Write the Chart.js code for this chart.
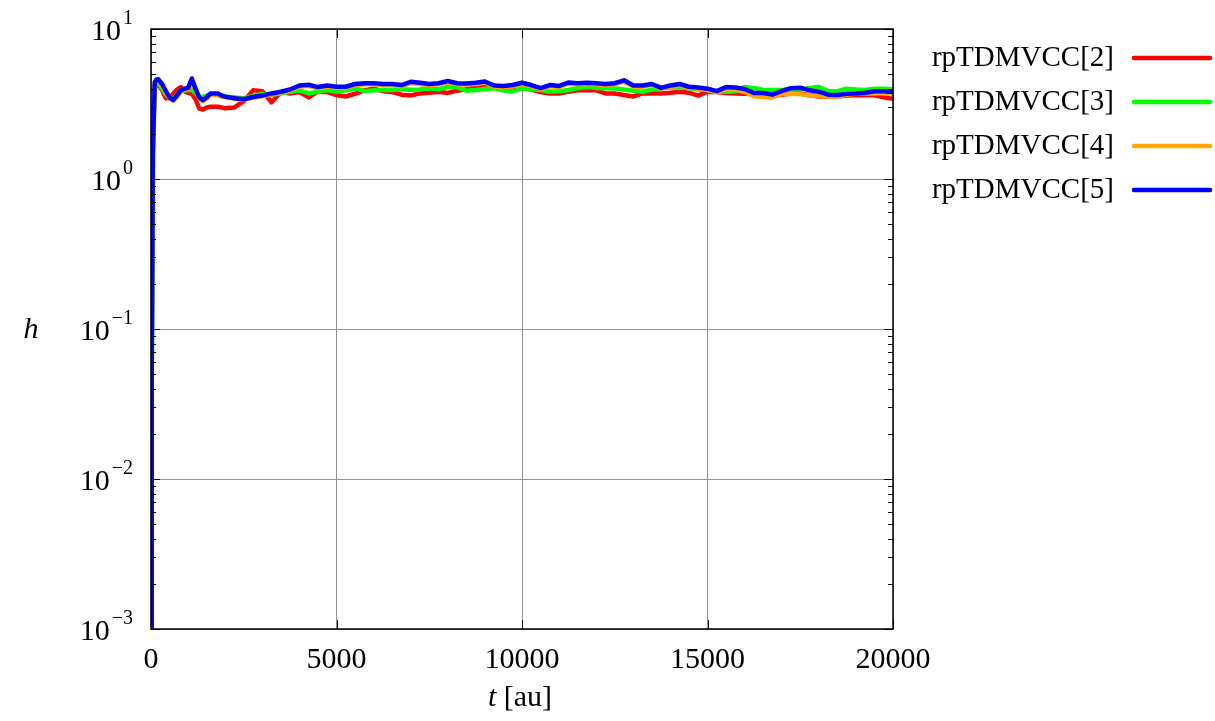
<!DOCTYPE html>
<html>
<head>
<meta charset="utf-8">
<script src="https://cdn.jsdelivr.net/npm/chart.js@4.4.1/dist/chart.umd.min.js"></script>
<style>
  html, body { margin: 0; padding: 0; background: #fff; }
  #wrap { width: 1215px; height: 721px; position: relative; }
</style>
</head>
<body>
<div id="wrap"><canvas id="chart"></canvas></div>
<script>
// time axis (au) shared by all four runs
const times = [0, 20, 50, 100, 150,
  200, 300, 400, 500, 600, 700, 800, 900, 1000, 1100,
  1200, 1300, 1400, 1500, 1600, 1700, 1800, 1900, 2000,
  2250, 2500, 2750, 3000, 3250, 3500, 3750, 4000,
  4250, 4500, 4750, 5000, 5250, 5500, 5750, 6000,
  6250, 6500, 6750, 7000, 7250, 7500, 7750, 8000,
  8250, 8500, 8750, 9000, 9250, 9500, 9750, 10000,
  10250, 10500, 10750, 11000, 11250, 11500, 11750, 12000,
  12250, 12500, 12750, 13000, 13250, 13500, 13750, 14000,
  14250, 14500, 14750, 15000, 15250, 15500, 15750, 16000,
  16250, 16500, 16750, 17000, 17250, 17500, 17750, 18000,
  18250, 18500, 18750, 19000, 19250, 19500, 19750, 20000];

const h2 = [0.001, 0.08, 2.0, 4.0, 4.3,
  4.25, 3.9, 3.45, 3.45, 3.7, 3.95, 4.1, 3.85, 3.75, 3.7,
  3.4, 2.95, 2.9, 3.0, 3.03, 3.03, 3.03, 3.0, 2.96,
  3.0, 3.3, 3.9, 3.85, 3.25, 3.8, 3.72, 3.8,
  3.5, 3.82, 3.8, 3.63, 3.55, 3.7, 3.9, 4.0,
  3.85, 3.8, 3.65, 3.6, 3.72, 3.76, 3.82, 3.75,
  3.88, 3.96, 4.09, 4.12, 4.2, 3.92, 3.88, 4.03,
  3.95, 3.8, 3.72, 3.72, 3.82, 3.9, 3.92, 3.9,
  3.72, 3.72, 3.63, 3.55, 3.72, 3.72, 3.72, 3.76,
  3.82, 3.76, 3.6, 3.82, 3.8, 3.74, 3.72, 3.7,
  3.68, 3.6, 3.55, 3.65, 3.72, 3.72, 3.62, 3.55,
  3.55, 3.55, 3.6, 3.62, 3.62, 3.62, 3.5, 3.42];

const h3 = [0.001, 0.05, 1.4, 4.2, 4.4,
  4.3, 4.0, 3.65, 3.5, 3.45, 3.6, 3.8, 3.9, 3.92, 3.92,
  3.75, 3.54, 3.54, 3.6, 3.63, 3.63, 3.63, 3.6, 3.55,
  3.5, 3.45, 3.58, 3.7, 3.65, 3.72, 3.82, 3.9,
  3.72, 3.82, 3.92, 3.82, 3.9, 4.03, 3.85, 3.9,
  3.92, 3.92, 3.96, 3.94, 3.95, 4.03, 3.96, 4.12,
  4.1, 3.88, 3.92, 3.98, 4.03, 3.9, 3.82, 4.03,
  3.97, 3.92, 3.83, 3.85, 3.92, 4.03, 4.1, 4.05,
  4.03, 4.03, 3.95, 3.88, 3.82, 3.95, 4.03, 4.07,
  4.09, 4.03, 3.95, 3.92, 3.82, 3.82, 3.85, 4.1,
  4.05, 3.92, 3.92, 3.92, 3.94, 3.96, 4.05, 4.1,
  3.85, 3.85, 4.0, 3.95, 3.92, 4.0, 4.0, 3.96];

const h4 = [0.001, 0.06, 1.7, 4.3, 4.5,
  4.5, 4.2, 3.75, 3.45, 3.35, 3.55, 3.85, 3.95, 4.0, 4.5,
  3.95, 3.45, 3.3, 3.45, 3.65, 3.65, 3.65, 3.55, 3.5,
  3.42, 3.38, 3.48, 3.56, 3.66, 3.76, 3.9, 4.12,
  4.18, 4.02, 4.12, 4.05, 4.05, 4.22, 4.28, 4.28,
  4.22, 4.22, 4.15, 4.35, 4.3, 4.22, 4.28, 4.42,
  4.28, 4.25, 4.3, 4.38, 4.12, 4.1, 4.15, 4.3,
  4.15, 3.97, 4.15, 4.1, 4.32, 4.28, 4.3, 4.28,
  4.22, 4.28, 4.45, 4.12, 4.12, 4.25, 4.0, 4.12,
  4.2, 4.05, 4.0, 3.92, 3.8, 3.98, 3.95, 3.8,
  3.56, 3.52, 3.5, 3.68, 3.7, 3.68, 3.6, 3.58,
  3.55, 3.54, 3.65, 3.72, 3.72, 3.72, 3.75, 3.72];

const h5 = [0.001, 0.05, 1.5, 4.4, 4.6,
  4.62, 4.3, 3.85, 3.5, 3.36, 3.6, 3.9, 4.0, 4.05, 4.68,
  4.0, 3.5, 3.36, 3.5, 3.72, 3.72, 3.72, 3.6, 3.54,
  3.45, 3.4, 3.52, 3.6, 3.72, 3.82, 3.95, 4.2,
  4.25, 4.1, 4.2, 4.12, 4.12, 4.3, 4.35, 4.35,
  4.3, 4.3, 4.23, 4.45, 4.38, 4.3, 4.35, 4.5,
  4.35, 4.33, 4.38, 4.46, 4.2, 4.17, 4.23, 4.38,
  4.23, 4.03, 4.23, 4.17, 4.4, 4.35, 4.38, 4.35,
  4.3, 4.35, 4.55, 4.2, 4.2, 4.3, 4.05, 4.2,
  4.3, 4.12, 4.07, 4.0, 3.85, 4.1, 4.07, 3.98,
  3.75, 3.74, 3.65, 3.86, 4.03, 4.06, 3.9, 3.82,
  3.65, 3.63, 3.7, 3.72, 3.76, 3.85, 3.85, 3.8];

const seriesNames = ["rpTDMVCC[2]", "rpTDMVCC[3]", "rpTDMVCC[4]", "rpTDMVCC[5]"];
const seriesColors = ["#ff0000", "#00ff00", "#ffa500", "#0000ff"];
const seriesValues = [h2, h3, h4, h5];

const xTicks = [0, 5000, 10000, 15000, 20000];
const yExponents = [-3, -2, -1, 0, 1];
const yMinorSteps = [2, 3, 4, 5, 6, 7, 8, 9];

const SERIF = "'Liberation Serif', 'DejaVu Serif', serif";

function line(ctx, x1, y1, x2, y2) {
  ctx.beginPath(); ctx.moveTo(x1, y1); ctx.lineTo(x2, y2); ctx.stroke();
}

// frame, inward ticks, superscript y labels, axis titles, legend on the right
const decorations = {
  id: "decorations",
  afterDraw(chart) {
    const { ctx, chartArea: a, scales: { x, y } } = chart;
    ctx.save();
    ctx.strokeStyle = "#000";
    ctx.lineWidth = 1;

    for (let e = -3; e < 1; e++) {
      for (const m of yMinorSteps) {
        const py = Math.round(y.getPixelForValue(m * Math.pow(10, e))) + 0.5;
        line(ctx, a.left, py, a.left + 5, py);
        line(ctx, a.right - 5, py, a.right, py);
      }
    }
    for (const e of yExponents) {
      const py = Math.round(y.getPixelForValue(Math.pow(10, e))) + 0.5;
      line(ctx, a.left, py, a.left + 9, py);
      line(ctx, a.right - 9, py, a.right, py);
    }
    for (const t of xTicks) {
      const px = Math.round(x.getPixelForValue(t)) + 0.5;
      line(ctx, px, a.bottom, px, a.bottom - 9);
      line(ctx, px, a.top, px, a.top + 9);
    }

    ctx.lineWidth = 1.5;
    ctx.strokeRect(a.left, a.top, a.right - a.left, a.bottom - a.top);

    // y labels 10^k, right-aligned
    ctx.fillStyle = "#000";
    ctx.textBaseline = "alphabetic";
    for (const e of yExponents) {
      const py = y.getPixelForValue(Math.pow(10, e));
      const exp = e < 0 ? "\u2212" + Math.abs(e) : String(e);
      ctx.font = `20px ${SERIF}`;
      const we = ctx.measureText(exp).width;
      ctx.font = `30px ${SERIF}`;
      const wb = ctx.measureText("10").width;
      const right = 133;
      ctx.textAlign = "left";
      ctx.fillText("10", right - we - wb - 2, py + 11);
      ctx.font = `20px ${SERIF}`;
      ctx.fillText(exp, right - we, py - 5);
    }

    // axis titles
    ctx.font = `italic 30px ${SERIF}`;
    ctx.textAlign = "center";
    ctx.fillText("h", 31, 338);

    const wt = ctx.measureText("t").width;
    ctx.font = `30px ${SERIF}`;
    const wr = ctx.measureText(" [au]").width;
    const x0 = 520 - (wt + wr) / 2;
    ctx.textAlign = "left";
    ctx.font = `italic 30px ${SERIF}`;
    ctx.fillText("t", x0, 706);
    ctx.font = `30px ${SERIF}`;
    ctx.fillText(" [au]", x0 + wt, 706);

    // legend: text then line sample
    ctx.font = `29px ${SERIF}`;
    ctx.textAlign = "right";
    seriesNames.forEach((name, i) => {
      const ly = 58 + i * 44;
      ctx.fillStyle = "#000";
      ctx.fillText(name, 1114, ly + 8);
      ctx.strokeStyle = seriesColors[i];
      ctx.lineWidth = 4.5;
      ctx.lineCap = "round";
      line(ctx, 1134, ly, 1210, ly);
    });
    ctx.restore();
  }
};

const datasets = seriesValues.map((vals, i) => ({
  label: seriesNames[i],
  data: times.map((t, j) => ({ x: t, y: vals[j] })),
  borderColor: seriesColors[i],
  backgroundColor: seriesColors[i],
  borderWidth: 4.5,
  borderJoinStyle: "round",
  borderCapStyle: "round",
  pointRadius: 0,
  tension: 0,
  order: seriesValues.length - 1 - i,
}));

new Chart(document.getElementById("chart"), {
  type: "line",
  data: { datasets },
  options: {
    responsive: true,
    maintainAspectRatio: false,
    animation: false,
    layout: { padding: { top: 29, right: 322, bottom: 0, left: 0 } },
    plugins: { legend: { display: false }, tooltip: { enabled: false } },
    scales: {
      x: {
        type: "linear",
        min: 0, max: 20000,
        afterBuildTicks: (s) => { s.ticks = xTicks.map(v => ({ value: v })); },
        afterFit: (s) => { s.height = 92; },
        grid: { color: "#909090", lineWidth: 1, drawTicks: false },
        border: { display: false },
        ticks: {
          color: "#000",
          font: { family: SERIF, size: 30 },
          padding: 13,
          maxRotation: 0,
          autoSkip: false,
          callback: (v) => String(v),
        },
      },
      y: {
        type: "logarithmic",
        min: 0.001, max: 10,
        afterBuildTicks: (s) => { s.ticks = yExponents.map(e => ({ value: Math.pow(10, e) })); },
        afterFit: (s) => { s.width = 151; },
        grid: { color: "#909090", lineWidth: 1, drawTicks: false },
        border: { display: false },
        ticks: { display: false },
      },
    },
  },
  plugins: [decorations],
});
</script>
</body>
</html>
